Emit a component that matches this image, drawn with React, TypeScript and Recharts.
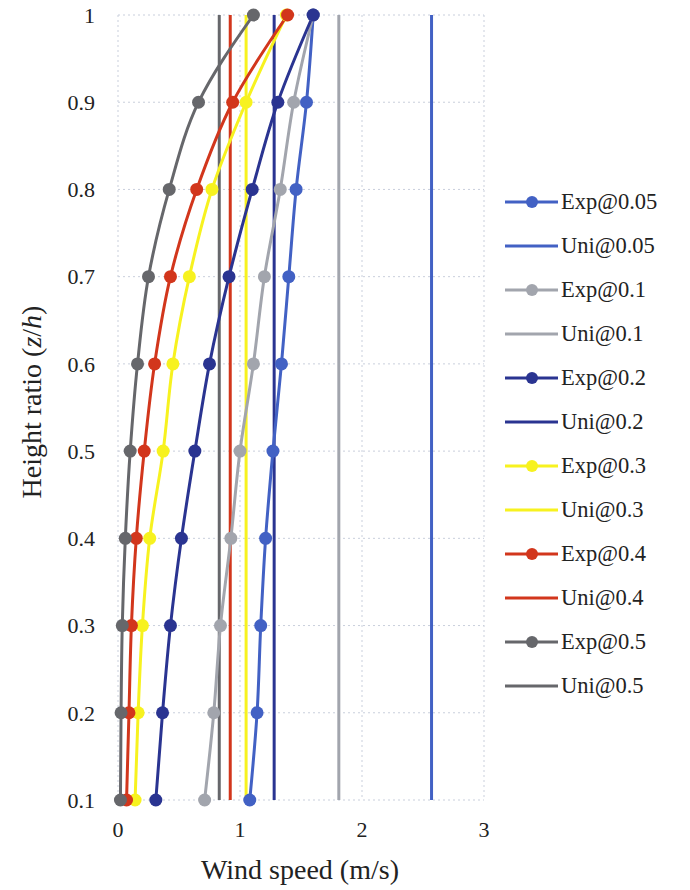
import { LineChart, Line, XAxis, YAxis, CartesianGrid } from "recharts";

// height ratio z/h, bottom to top
const heights = [0.1, 0.2, 0.3, 0.4, 0.5, 0.6, 0.7, 0.8, 0.9, 1];
const speedTicks = [0, 1, 2, 3];

// exponential profiles, wind speed (m/s) at each height
const exp005 = [1.08, 1.14, 1.17, 1.21, 1.27, 1.34, 1.4, 1.46, 1.545, 1.6];
const exp01 = [0.71, 0.785, 0.84, 0.925, 1.0, 1.11, 1.2, 1.33, 1.44, 1.6];
const exp02 = [0.31, 0.365, 0.43, 0.52, 0.63, 0.75, 0.91, 1.1, 1.31, 1.6];
const exp03 = [0.14, 0.165, 0.2, 0.26, 0.37, 0.45, 0.585, 0.77, 1.05, 1.38];
const exp04 = [0.07, 0.09, 0.11, 0.15, 0.215, 0.3, 0.43, 0.645, 0.94, 1.39];
const exp05 = [0.02, 0.025, 0.035, 0.06, 0.1, 0.16, 0.25, 0.42, 0.66, 1.11];

// uniform profiles (constant speed)
const uniSpeeds = [2.57, 1.81, 1.28, 1.05, 0.92, 0.83];

const expSeries = [exp005, exp01, exp02, exp03, exp04, exp05];
const labels = ["0.05", "0.1", "0.2", "0.3", "0.4", "0.5"];
const colors = ["#4261c4", "#a2a5ad", "#2a3491", "#f7f21f", "#d2361c", "#66676b"];

const rows = heights.map((h, i) => {
  const row: Record<string, number> = { h };
  labels.forEach((_, s) => {
    row["exp" + s] = expSeries[s][i];
    row["uni" + s] = uniSpeeds[s];
  });
  return row;
});

const FONT = "'Liberation Serif', 'Times New Roman', serif";

function LegendBox() {
  const items: { name: string; color: string; dot: boolean }[] = [];
  labels.forEach((l, s) => {
    items.push({ name: "Exp@" + l, color: colors[s], dot: true });
    items.push({ name: "Uni@" + l, color: colors[s], dot: false });
  });
  return (
    <div
      style={{
        position: "absolute",
        left: 503,
        top: 180,
        fontFamily: FONT,
        fontSize: 22.5,
        color: "#222",
      }}
    >
      {items.map((it) => (
        <div key={it.name} style={{ height: 44, display: "flex", alignItems: "center" }}>
          <svg width={56} height={16} style={{ marginRight: 2 }}>
            <line x1={2} y1={8} x2={55} y2={8} stroke={it.color} strokeWidth={3} />
            {it.dot && <circle cx={29} cy={8} r={6} fill={it.color} />}
          </svg>
          <span>{it.name}</span>
        </div>
      ))}
    </div>
  );
}

function YTitle() {
  const cx = 31;
  const cy = 402;
  return (
    <text
      x={cx}
      y={cy}
      transform={`rotate(-90 ${cx} ${cy})`}
      textAnchor="middle"
      dominantBaseline="central"
      fontFamily={FONT}
      fontSize={28}
      fill="#222"
    >
      Height ratio (<tspan fontStyle="italic">z</tspan>/<tspan fontStyle="italic">h</tspan>)
    </text>
  );
}

function XTitle() {
  return (
    <text x={300} y={879} textAnchor="middle" fontFamily={FONT} fontSize={28} fill="#222">
      Wind speed (m/s)
    </text>
  );
}

export default function App() {
  return (
    <div style={{ position: "absolute", left: 0, top: 0, width: 690, height: 890, background: "#fff" }}>
      <LineChart
        layout="vertical"
        width={690}
        height={890}
        data={rows}
        margin={{ top: 15, right: 206, left: 18, bottom: 10 }}
      >
        <CartesianGrid stroke="#c9cfdc" strokeDasharray="2 3" />
        <XAxis
          type="number"
          domain={[0, 3]}
          ticks={speedTicks}
          axisLine={false}
          tickLine={false}
          tickMargin={15}
          height={80}
          tick={{ fontFamily: FONT, fontSize: 22, fill: "#222" }}
          label={<XTitle />}
        />
        <YAxis
          type="number"
          dataKey="h"
          domain={[0.1, 1]}
          ticks={heights}
          reversed
          axisLine={false}
          tickLine={false}
          tickMargin={17}
          width={100}
          tick={{ fontFamily: FONT, fontSize: 22, fill: "#222" }}
          label={<YTitle />}
        />
        {labels.map((l, s) => (
          <Line
            key={"uni" + s}
            name={"Uni@" + l}
            dataKey={"uni" + s}
            type="linear"
            stroke={colors[s]}
            strokeWidth={3}
            dot={false}
            isAnimationActive={false}
          />
        ))}
        {labels.map((l, s) => (
          <Line
            key={"exp" + s}
            name={"Exp@" + l}
            dataKey={"exp" + s}
            type="monotone"
            stroke={colors[s]}
            strokeWidth={3}
            dot={{ r: 6.5, fill: colors[s], stroke: colors[s], strokeWidth: 0 }}
            isAnimationActive={false}
          />
        ))}
      </LineChart>
      <LegendBox />
    </div>
  );
}
